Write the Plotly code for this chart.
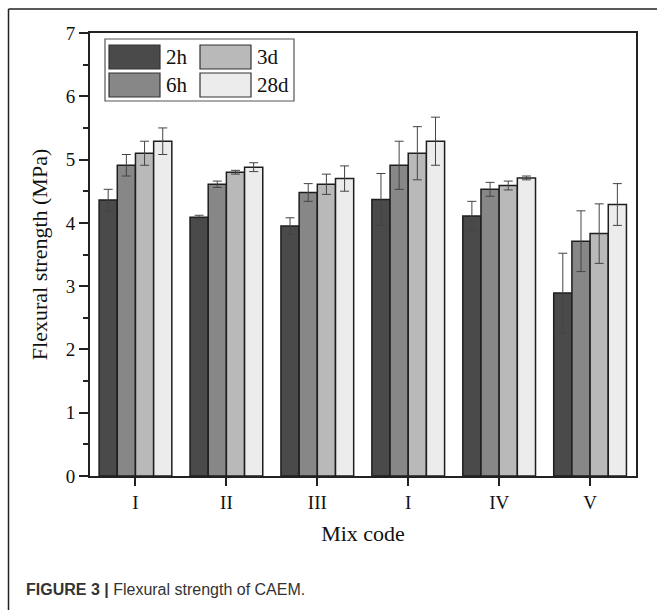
import plotly.graph_objects as go

mix_codes = ["I", "II", "III", "I", "IV", "V"]
ages = ["2h", "6h", "3d", "28d"]
vals_2h = [4.36, 4.09, 3.95, 4.37, 4.11, 2.89]
vals_6h = [4.91, 4.61, 4.48, 4.91, 4.53, 3.71]
vals_3d = [5.10, 4.80, 4.61, 5.10, 4.59, 3.83]
vals_28d = [5.29, 4.88, 4.70, 5.29, 4.71, 4.29]
err_2h = [0.17, 0.03, 0.13, 0.41, 0.23, 0.63]
err_6h = [0.17, 0.05, 0.14, 0.38, 0.11, 0.48]
err_3d = [0.19, 0.03, 0.16, 0.42, 0.07, 0.47]
err_28d = [0.21, 0.07, 0.20, 0.38, 0.03, 0.33]
colors = ["#4a4a4a", "#878787", "#b9b9b9", "#ececec"]

series = [vals_2h, vals_6h, vals_3d, vals_28d]
errors = [err_2h, err_6h, err_3d, err_28d]
xpos = list(range(len(mix_codes)))

fig = go.Figure()
for name, v, e, c in zip(ages, series, errors, colors):
    fig.add_trace(go.Bar(
        x=xpos, y=v, name=name,
        marker=dict(color=c, line=dict(color="#1e1e1e", width=1.5)),
        error_y=dict(type="data", array=e, visible=True, color="#444444",
                     thickness=1, width=4.5),
        showlegend=False,
    ))

# plot area geometry in pixels
L, T, W, H = 90, 33, 546, 443
def px(x):
    return (x - L) / W
def py(y):
    return (T + H - y) / H

shapes = []
annotations = []
# outer figure frame (left and top)
shapes.append(dict(type="line", xref="paper", yref="paper", x0=px(8.5), x1=px(657), y0=py(9), y1=py(9),
                   line=dict(color="#222222", width=1.5)))
shapes.append(dict(type="line", xref="paper", yref="paper", x0=px(8.5), x1=px(8.5), y0=py(9), y1=py(612),
                   line=dict(color="#222222", width=1.5)))
# custom legend
shapes.append(dict(type="rect", xref="paper", yref="paper", x0=px(105), x1=px(294), y0=py(101), y1=py(39),
                   line=dict(color="#555555", width=1.2), fillcolor="white"))
legend_pos = [(109, 45), (109, 73), (200, 45), (200, 73)]
for (lx, ly), name, c in zip(legend_pos, ages, colors):
    shapes.append(dict(type="rect", xref="paper", yref="paper", x0=px(lx), x1=px(lx + 51),
                       y0=py(ly + 24), y1=py(ly), line=dict(color="#333333", width=1.2), fillcolor=c))
    annotations.append(dict(text=name, xref="paper", yref="paper", x=px(lx + 55), y=py(ly + 12),
                            xanchor="left", yanchor="middle", showarrow=False,
                            font=dict(family="Liberation Serif", size=21, color="#111111")))
# caption
annotations.append(dict(text="<b>FIGURE 3 |</b> Flexural strength of CAEM.", xref="paper", yref="paper",
                        x=px(24), y=py(589), xanchor="left", yanchor="middle", showarrow=False,
                        font=dict(family="Liberation Sans Narrow, Liberation Sans", size=16, color="#333333")))

fig.update_layout(
    width=657, height=610,
    margin=dict(l=L, r=657 - L - W, t=T, b=610 - T - H),
    paper_bgcolor="white", plot_bgcolor="white",
    barmode="group", bargap=0.2, bargroupgap=0,
    shapes=shapes, annotations=annotations,
    font=dict(family="Liberation Serif", color="#111111"),
)
fig.update_xaxes(
    range=[-0.5, 5.505], tickmode="array", tickvals=xpos, ticktext=mix_codes,
    ticks="outside", ticklen=8, tickwidth=2, tickcolor="#222222",
    showline=True, linecolor="#222222", linewidth=2, mirror=True,
    showgrid=False, zeroline=False,
    tickfont=dict(family="Liberation Serif", size=19),
    title=dict(text="Mix code", font=dict(family="Liberation Serif", size=22), standoff=14),
)
fig.update_yaxes(
    range=[0, 7], tickmode="linear", tick0=0, dtick=1,
    ticks="outside", ticklen=9, tickwidth=2, tickcolor="#222222",
    minor=dict(ticks="outside", ticklen=5, tickwidth=1.5, tickcolor="#222222", dtick=0.5, showgrid=False),
    showline=True, linecolor="#222222", linewidth=2, mirror=True,
    showgrid=False, zeroline=False,
    tickfont=dict(family="Liberation Serif", size=19),
    title=dict(text="Flexural strength (MPa)", font=dict(family="Liberation Serif", size=22), standoff=12),
)

fig.write_html("out.html")
